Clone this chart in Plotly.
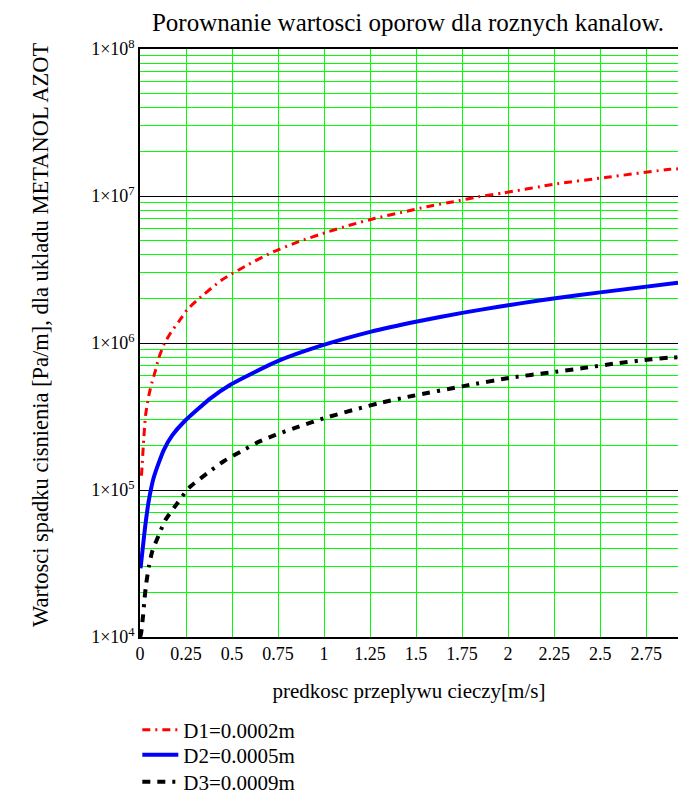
import plotly.graph_objects as go

# ---- data ----
x_d1 = [0.008, 0.012, 0.021, 0.030, 0.048, 0.066, 0.084, 0.102, 0.129, 0.166, 0.211, 0.256, 0.311,
        0.446, 0.591, 0.726, 0.862, 1.007, 1.143, 1.278, 1.423, 1.559, 1.704, 1.839, 1.975,
        2.265, 2.536, 2.88, 2.923]
y_d1 = [1.25e5, 1.5e5, 2.3e5, 3.2e5, 4.4e5, 5.45e5, 6.5e5, 7.9e5, 9.7e5, 1.17e6, 1.40e6, 1.68e6, 1.96e6,
        2.69e6, 3.43e6, 4.18e6, 4.89e6, 5.63e6, 6.35e6, 7.05e6, 7.74e6, 8.46e6, 9.15e6, 9.89e6, 1.05e7,
        1.21e7, 1.34e7, 1.52e7, 1.53e7]

x_d2 = [0.003, 0.030, 0.048, 0.075, 0.129, 0.175, 0.238, 0.383, 0.491, 0.745, 0.98, 1.251, 1.505,
        1.758, 1.957, 2.066, 2.247, 2.5, 2.923]
y_d2 = [2.93e4, 5.9e4, 8.5e4, 1.22e5, 1.87e5, 2.35e5, 2.9e5, 4.2e5, 5.2e5, 7.5e5, 9.55e5, 1.19e6, 1.40e6,
        1.61e6, 1.77e6, 1.86e6, 2.01e6, 2.21e6, 2.57e6]

x_d3 = [0.001, 0.006, 0.017, 0.024, 0.034, 0.048, 0.066, 0.102, 0.138, 0.202, 0.265, 0.365, 0.455,
        0.546, 0.636, 0.736, 0.835, 0.926, 1.007, 1.296, 1.478, 1.758, 2.03, 2.22, 2.40, 2.59, 2.78, 2.87, 2.923]
y_d3 = [1.0e4, 1.06e4, 1.41e4, 1.79e4, 2.32e4, 3.0e4, 3.8e4, 4.94e4, 6.25e4, 8.1e4, 1.03e5, 1.30e5, 1.57e5,
        1.82e5, 2.1e5, 2.37e5, 2.63e5, 2.87e5, 3.1e5, 3.89e5, 4.36e5, 5.09e5, 5.85e5, 6.28e5, 6.73e5,
        7.28e5, 7.75e5, 7.94e5, 8.0e5]

names = ["D1=0.0002m", "D2=0.0005m", "D3=0.0009m"]

x_ticks = [0, 0.25, 0.5, 0.75, 1, 1.25, 1.5, 1.75, 2, 2.25, 2.5, 2.75]
x_ticktext = ["0", "0.25", "0.5", "0.75", "1", "1.25", "1.5", "1.75", "2", "2.25", "2.5", "2.75"]
y_ticks = [1e4, 1e5, 1e6, 1e7, 1e8]
y_ticktext = ["1×10<sup>4</sup>", "1×10<sup>5</sup>", "1×10<sup>6</sup>", "1×10<sup>7</sup>", "1×10<sup>8</sup>"]
y_minor = [m * 10 ** e for e in range(4, 8) for m in range(2, 10)]

title = "Porownanie wartosci oporow dla roznych kanalow."
x_title = "predkosc przeplywu cieczy[m/s]"
y_title = "Wartosci spadku cisnienia [Pa/m], dla ukladu METANOL AZOT"

FONT = "Liberation Serif, Times New Roman, serif"

fig = go.Figure()
fig.add_trace(go.Scatter(x=x_d1, y=y_d1, mode="lines", name=names[0], legend="legend",
                         line=dict(color="#ff0000", width=3, dash="8px,5px,2px,5px",
                                   shape="spline", smoothing=0.6)))
fig.add_trace(go.Scatter(x=x_d2, y=y_d2, mode="lines", name=names[1], legend="legend2",
                         line=dict(color="#0000ff", width=4, shape="spline", smoothing=0.6)))
fig.add_trace(go.Scatter(x=x_d3, y=y_d3, mode="lines", name=names[2], legend="legend3",
                         line=dict(color="#000000", width=4, dash="8px,7px,8px,7px,3px,7px",
                                   shape="spline", smoothing=0.6)))


def leg(ypix):
    return dict(x=-0.005, xanchor="left", yref="container", y=1 - ypix / 796, yanchor="middle",
                font=dict(size=21, family=FONT, color="black"), itemwidth=36,
                bgcolor="rgba(0,0,0,0)")


fig.update_layout(
    width=678, height=796,
    margin=dict(l=140, r=0, t=49, b=159),
    paper_bgcolor="white", plot_bgcolor="white",
    font=dict(family=FONT, color="black", size=18),
    title=dict(text=title, x=408 / 678, xanchor="center", y=1 - 22 / 796, yanchor="middle",
               font=dict(size=25, family=FONT, color="black")),
    showlegend=True,
    legend=leg(730), legend2=leg(755), legend3=leg(782),
    xaxis=dict(range=[0, 2.923], tickmode="array", tickvals=x_ticks, ticktext=x_ticktext,
               showgrid=True, gridcolor="#00ff00", gridwidth=1.3, zeroline=False,
               showline=True, linecolor="black", linewidth=1.5, mirror=True, ticks="",
               tickfont=dict(size=18, family=FONT), automargin=False,
               title=dict(text=x_title, font=dict(size=21, family=FONT), standoff=20)),
    yaxis=dict(type="log", range=[4, 8], tickmode="array", tickvals=y_ticks, ticktext=y_ticktext,
               showgrid=True, gridcolor="black", gridwidth=1, zeroline=False,
               showline=True, linecolor="black", linewidth=1.5, ticks="",
               tickfont=dict(size=18, family=FONT), automargin=False,
               minor=dict(tickmode="array", tickvals=y_minor, showgrid=True,
                          gridcolor="#00ff00", gridwidth=1.3, ticks="")),
    annotations=[dict(text=y_title, xref="paper", yref="paper", x=(40 - 140) / 538, y=(637 - 335) / 588,
                      xanchor="center", yanchor="middle", textangle=-90, showarrow=False,
                      font=dict(size=22.5, family=FONT, color="black"))],
)

fig.write_html("out.html", config={"displayModeBar": False},
               post_script="document.body.style.margin='0px';")
